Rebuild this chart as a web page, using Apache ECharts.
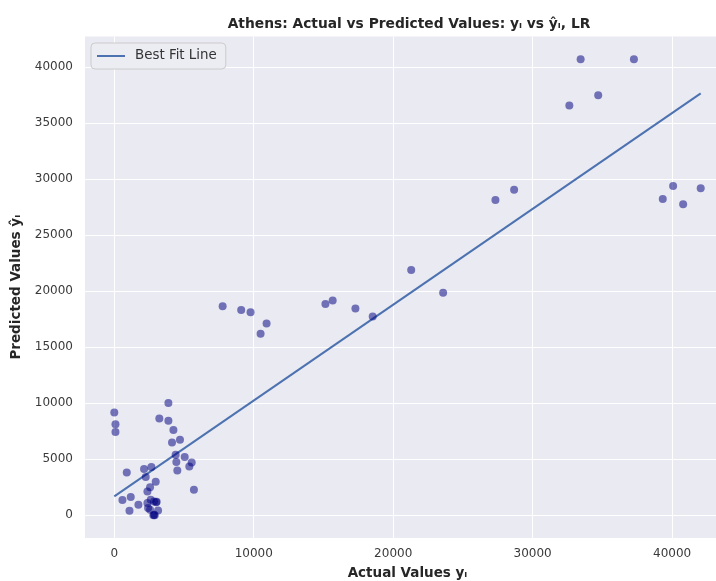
<!DOCTYPE html>
<html>
<head>
<meta charset="utf-8">
<script src="https://cdn.jsdelivr.net/npm/echarts@6/dist/echarts.min.js"></script>
<style>html,body{margin:0;padding:0;background:#fff;}#chart{width:716px;height:581px;}</style>
</head>
<body>
<div id="chart"></div>
<script>
// Actual values (x) and predicted values (y) of the scatter points
const actualValues = [
  33440, 37260, 32630, 34700, 27330, 28670, 40070, 39330, 40790, 42050,
  23580, 21290, 7770, 9100, 9770, 10920, 10490, 15140, 15660, 17290, 18530,
  0, 85, 85, 3880, 3230, 3880, 4240, 4140, 4710,
  4400, 4450, 4520, 5050, 5550, 5380, 5710,
  895, 2135, 2660, 2255, 2970, 2565, 2375, 585, 1180, 1730, 1090,
  2375, 2610, 2420, 2850, 3040, 3000, 3140, 2800, 2850, 2900, 2565
];
const predictedValues = [
  40710, 40710, 36580, 37500, 28140, 29060, 29390, 28230, 27750, 29180,
  19870, 21890, 18660, 18330, 18120, 17110, 16190, 18860, 19160, 18450, 17730,
  9170, 8130, 7420, 10010, 8640, 8430, 7600, 6490, 6730,
  5400, 4740, 4000, 5190, 4710, 4350, 2270,
  3820, 4120, 4300, 3400, 2990, 2500, 2120, 1350, 1620, 940, 400,
  1090, 1380, 640, 1230, 1200, 1150, 430, 0, 30, 0, 490
];
// Best fit line endpoints
const fitX = [0, 42050];
const fitY = [1680, 37660];
// Tick labels
const xTicks = [0, 10000, 20000, 30000, 40000];
const yTicks = [0, 5000, 10000, 15000, 20000, 25000, 30000, 35000, 40000];

const font = 'DejaVu Sans';
const chart = echarts.init(document.getElementById('chart'));
chart.setOption({
  animation: false,
  backgroundColor: '#ffffff',
  title: {
    text: 'Athens: Actual vs Predicted Values: yᵢ vs ŷᵢ, LR',
    left: 404, top: 12, textAlign: 'center',
    textStyle: { fontFamily: font, fontSize: 13.8, fontWeight: 'bold', color: '#262626' }
  },
  legend: {
    data: [{ name: 'Best Fit Line', icon: 'rect' }],
    left: 91, top: 43,
    padding: [5, 9, 5, 6],
    itemWidth: 28, itemHeight: 2,
    backgroundColor: '#ecedf3',
    borderColor: '#cccccc', borderWidth: 1, borderRadius: 4,
    textStyle: { fontFamily: font, fontSize: 13.4, color: '#333333', padding: [0, 0, 0, 5], lineHeight: 16 }
  },
  grid: {
    left: 85, top: 36.5, width: 645, height: 501.5,
    show: true, backgroundColor: '#eaeaf2', borderWidth: 0,
    containLabel: false, outerBoundsMode: 'none'
  },
  xAxis: {
    type: 'value', min: -2100, max: 44150,
    name: 'Actual Values yᵢ', nameLocation: 'middle', nameGap: 28,
    nameTextStyle: { fontFamily: font, fontSize: 13.5, fontWeight: 'bold', color: '#262626' },
    axisLine: { show: false },
    axisTick: { show: false, customValues: xTicks },
    axisLabel: { customValues: xTicks, margin: 10, fontFamily: font, fontSize: 12, color: '#3a3a3a',
      formatter: v => String(v) },
    splitLine: { show: true, lineStyle: { color: '#ffffff', width: 1 } }
  },
  yAxis: {
    type: 'value', min: -2035, max: 42735,
    name: 'Predicted Values ŷᵢ', nameLocation: 'middle', nameGap: 60, nameRotate: 90,
    nameTextStyle: { fontFamily: font, fontSize: 13.5, fontWeight: 'bold', color: '#262626' },
    axisLine: { show: false },
    axisTick: { show: false, customValues: yTicks },
    axisLabel: { customValues: yTicks, margin: 12, fontFamily: font, fontSize: 12, color: '#3a3a3a',
      formatter: v => String(v) },
    splitLine: { show: true, lineStyle: { color: '#ffffff', width: 1 } }
  },
  series: [
    {
      name: 'Best Fit Line', type: 'line',
      data: fitX.map((x, i) => [x, fitY[i]]),
      symbol: 'none', z: 2,
      lineStyle: { color: '#4c72b0', width: 2 },
      itemStyle: { color: '#4c72b0' }
    },
    {
      name: 'points', type: 'scatter',
      data: actualValues.map((x, i) => [x, predictedValues[i]]),
      symbolSize: 8, z: 3,
      itemStyle: { color: 'rgba(0,0,128,0.65)' }
    }
  ]
});
</script>
</body>
</html>
